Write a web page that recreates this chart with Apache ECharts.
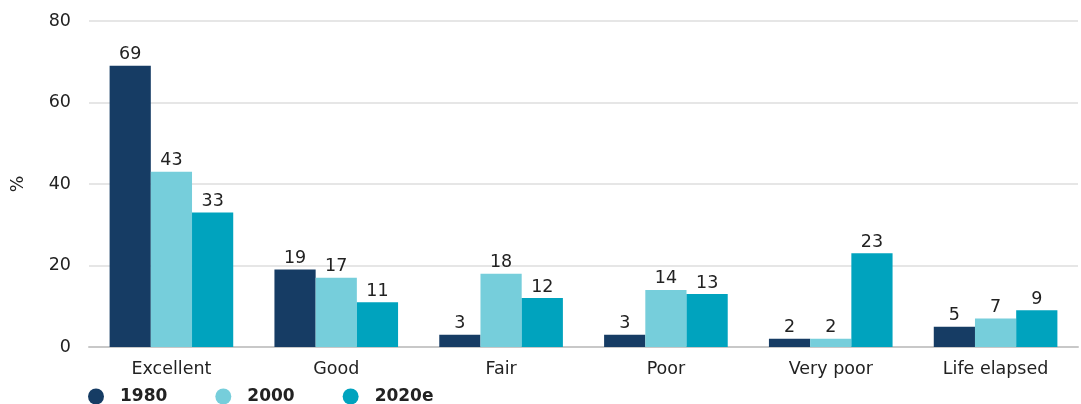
<!DOCTYPE html>
<html><head><meta charset="utf-8">
<script src="https://cdn.jsdelivr.net/npm/echarts@6/dist/echarts.min.js"></script>
<style>html,body{margin:0;padding:0;background:#fff}#c{width:1081px;height:404px}</style>
</head><body><div id="c"></div>
<script>
const categories = ["Excellent", "Good", "Fair", "Poor", "Very poor", "Life elapsed"];
const s1980 = [69, 19, 3, 3, 2, 5];
const s2000 = [43, 17, 18, 14, 2, 7];
const s2020e = [33, 11, 12, 13, 23, 9];
const seriesNames = ["1980", "2000", "2020e"];
const yTicks = [0, 20, 40, 60, 80];

const FONT = "DejaVu Sans";
const FS = 17.5;
const colors = ["#163c64", "#76cedb", "#00a3be"];
const chart = echarts.init(document.getElementById('c'));
const mk = (name, data, i) => ({
  name, type: 'bar', data, barGap: '0%', barCategoryGap: '25%',
  itemStyle: { color: colors[i] },
  label: { show: true, position: 'top', distance: 2, color: '#222', fontFamily: FONT, fontSize: FS }
});
chart.setOption({
  animation: false,
  textStyle: { fontFamily: FONT },
  grid: { left: 89, right: 3, top: 21, bottom: 57, containLabel: false },
  legend: {
    left: 83, top: 383, itemWidth: 16, itemHeight: 16, itemGap: 48, icon: 'circle',
    data: seriesNames,
    textStyle: { fontFamily: FONT, fontSize: 17, fontWeight: 'bold', color: '#222', padding: [0, 0, 0, 11] }
  },
  xAxis: {
    type: 'category', data: categories,
    axisLine: { lineStyle: { color: '#c8c8c8', width: 2 } },
    axisTick: { show: false },
    axisLabel: { color: '#222', fontFamily: FONT, fontSize: FS, margin: 13 }
  },
  yAxis: {
    type: 'value', min: yTicks[0], max: yTicks[yTicks.length - 1], interval: 20,
    name: '%', nameLocation: 'middle', nameGap: 62, nameRotate: 90,
    nameTextStyle: { color: '#222', fontFamily: FONT, fontSize: FS },
    axisLine: { show: false }, axisTick: { show: false },
    splitLine: { lineStyle: { color: '#dedede', width: 1.5 } },
    axisLabel: { color: '#222', fontFamily: FONT, fontSize: FS, margin: 18 }
  },
  series: [mk(seriesNames[0], s1980, 0), mk(seriesNames[1], s2000, 1), mk(seriesNames[2], s2020e, 2)]
});
</script></body></html>
